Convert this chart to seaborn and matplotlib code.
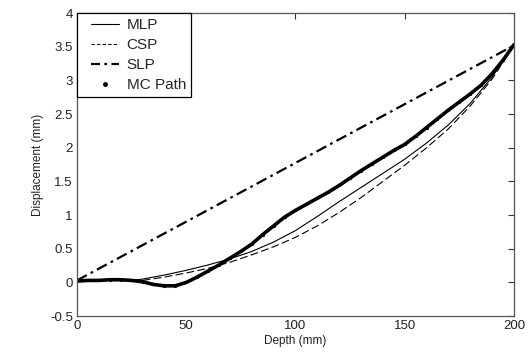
import numpy as np
import pandas as pd
import matplotlib
matplotlib.use("Agg")
import matplotlib.pyplot as plt
import seaborn as sns
from matplotlib.lines import Line2D
from matplotlib.legend_handler import HandlerLine2D

# ---- data ----
mlp_x = [25, 30, 40, 50, 60, 70, 80, 90, 100, 110, 120, 130, 140, 150, 160, 170, 180, 190, 200]
mlp_y = [0.03, 0.05, 0.11, 0.18, 0.26, 0.35, 0.46, 0.6, 0.77, 0.98, 1.2, 1.41, 1.62, 1.83,
         2.07, 2.34, 2.66, 3.05, 3.52]
csp_x = [25, 30, 40, 50, 60, 70, 80, 90, 100, 110, 120, 130, 140, 150, 160, 170, 180, 190, 200]
csp_y = [0.02, 0.03, 0.08, 0.14, 0.21, 0.3, 0.41, 0.53, 0.67, 0.84, 1.04, 1.26, 1.5, 1.74,
         2.0, 2.28, 2.62, 3.02, 3.52]
slp_x = [0, 200]
slp_y = [0.03, 3.52]
mc_x = [0, 5, 10, 15, 20, 25, 30, 35, 40, 45, 50, 55, 60, 65, 70, 75, 80, 85, 90,
        95, 100, 105, 110, 115, 120, 125, 130, 135, 140, 145, 150, 155, 160, 165, 170,
        175, 180, 185, 190, 195, 200]
mc_y = [0.02, 0.03, 0.03, 0.04, 0.04, 0.03, 0.01, -0.03, -0.05, -0.05, 0.0, 0.08, 0.17,
        0.26, 0.36, 0.46, 0.57, 0.71, 0.84, 0.97, 1.07, 1.16, 1.25, 1.34, 1.44, 1.55,
        1.66, 1.76, 1.86, 1.96, 2.05, 2.17, 2.3, 2.43, 2.56, 2.68, 2.8, 2.93, 3.1, 3.3, 3.53]
x_ticks = [0, 50, 100, 150, 200]
y_ticks = [-0.5, 0, 0.5, 1, 1.5, 2, 2.5, 3, 3.5, 4]
y_tick_labels = ["-0.5", "0", "0.5", "1", "1.5", "2", "2.5", "3", "3.5", "4"]

sns.set_theme(style="white")
plt.rcParams['font.family'] = ['Liberation Sans', 'DejaVu Sans']

fig = plt.figure(figsize=(5.32, 3.54), dpi=100)
ax = fig.add_axes([0.1447, 0.107, 0.8213, 0.856])

sns.lineplot(x=mlp_x, y=mlp_y, ax=ax, color='black', linewidth=0.8, linestyle='-')
sns.lineplot(x=csp_x, y=csp_y, ax=ax, color='black', linewidth=0.8, linestyle=(0, (7, 3)))
sns.lineplot(x=slp_x, y=slp_y, ax=ax, color='black', linewidth=1.6, linestyle=(0, (5, 2, 1.2, 2)))
sns.lineplot(x=mc_x, y=mc_y, ax=ax, color='black', linewidth=2.6, marker='.', markersize=3,
             markeredgecolor='black', markerfacecolor='black')

ax.set_xlim(0, 200)
ax.set_ylim(-0.5, 4)
ax.set_xticks(x_ticks)
ax.set_xticklabels([str(t) for t in x_ticks])
ax.set_yticks(y_ticks)
ax.set_yticklabels(y_tick_labels)
ax.tick_params(direction='in', length=4, width=0.8, top=True, right=True,
               labelsize=9.5, colors='#333333', labelcolor='#222222', pad=3)
for s in ax.spines.values():
    s.set_color('#555555')
    s.set_linewidth(0.9)
ax.set_xlabel('Depth (mm)', fontsize=8.5, labelpad=2, color='#222222')
ax.set_ylabel('Displacement (mm)', fontsize=8.5, labelpad=4, color='#222222')

handles = [
    Line2D([], [], color='black', linewidth=0.8, linestyle='-'),
    Line2D([], [], color='black', linewidth=0.8, linestyle=(0, (3, 2))),
    Line2D([], [], color='black', linewidth=1.6, linestyle=(0, (4, 2, 1.2, 2))),
    Line2D([], [], color='black', linestyle='none', marker='.', markersize=5),
]
hm = {h: HandlerLine2D(xpad=0.6) for h in handles}
leg = ax.legend(handles, ['MLP', 'CSP', 'SLP', 'MC Path'], loc='upper left',
                borderaxespad=0, fancybox=False, frameon=True, fontsize=11,
                handlelength=2.4, handletextpad=0.5, labelspacing=0.38,
                borderpad=0.35, handler_map=hm)
leg.get_frame().set_edgecolor('black')
leg.get_frame().set_linewidth(0.9)
leg.get_frame().set_alpha(1)

fig.savefig('out.png', dpi=100)
